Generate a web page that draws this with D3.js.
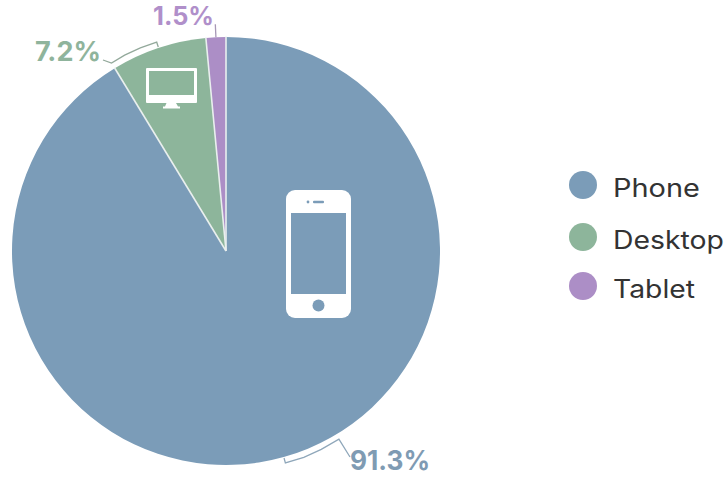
<!DOCTYPE html>
<html>
<head>
<meta charset="utf-8">
<script src="https://cdn.jsdelivr.net/npm/d3@7/dist/d3.min.js"></script>
<style>html,body{margin:0;padding:0;background:#fff}svg{display:block}</style>
</head>
<body>
<svg id="chart" width="727" height="479"></svg>
<script>
const categories = ["Phone", "Desktop", "Tablet"];
const values = [91.3, 7.2, 1.5];
const valueLabels = ["91.3%", "7.2%", "1.5%"];
const sliceColors = ["#7b9cb8", "#8db59b", "#ac8ec6"];
const labelColors = ["#7f9bb3", "#8fb49c", "#b08fca"];

const svg = d3.select("#chart");
const cx = 226, cy = 251, R = 214;
const font = "Inter, 'Noto Sans', sans-serif";

const color = d3.scaleOrdinal(categories, sliceColors);
const labelColor = d3.scaleOrdinal(categories, labelColors);
const pieData = d3.pie().sort(null).value((d, i) => values[i])(categories);
const arc = d3.arc().innerRadius(0).outerRadius(R);

const g = svg.append("g").attr("transform", `translate(${cx},${cy})`);
g.selectAll("path.slice").data(pieData).join("path")
  .attr("class", "slice")
  .attr("d", arc)
  .attr("fill", d => color(d.data));

const polar = (a, r) => [r * Math.sin(a), -r * Math.cos(a)];
const rad = d3.scaleLinear().domain([0, 360]).range([0, 2 * Math.PI]);
const mid = d => (d.startAngle + d.endAngle) / 2;
const line = d3.line();

// pale separators between the slices only
g.selectAll("path.sep").data(pieData).join("path")
  .attr("class", "sep")
  .attr("d", d => line([[0, 0], polar(d.startAngle, R + 0.5)]))
  .attr("fill", "none")
  .attr("stroke", "#e9efee")
  .attr("stroke-width", 1.6);

// leader lines start from each slice's mid angle
{
  const a = mid(pieData[0]);
  const b = a - rad(15.3);
  const pts = [polar(a, R + 1), polar(a, R + 6), polar(a - rad(5), R + 6.5), polar(a - rad(10), R + 6), polar(b, R + 5.5), [124, 206]];
  g.append("path").attr("d", line(pts)).attr("fill", "none").attr("stroke", "#8fa7ba").attr("stroke-width", 1.3);
}
{
  const a = mid(pieData[1]);
  const b = a - rad(13);
  const pts = [polar(a, R + 1), polar(a, R + 6), polar(a - rad(4.5), R + 6.5), polar(a - rad(9), R + 6.5), polar(b, R + 6), [-123, -191]];
  g.append("path").attr("d", line(pts)).attr("fill", "none").attr("stroke", "#93a99b").attr("stroke-width", 1.3);
}
{
  const a = mid(pieData[2]);
  g.append("path").attr("d", line([polar(a, R), polar(a, R + 13)])).attr("fill", "none").attr("stroke", "#a798b6").attr("stroke-width", 1.3);
}

// value labels
const labelSpots = [
  { x: 350, y: 470, w: 80, s: 27 },
  { x: 35, y: 61, w: 66, s: 27 },
  { x: 153, y: 24.5, w: 61, s: 25 }
];
svg.selectAll("text.value").data(categories).join("text")
  .attr("class", "value")
  .attr("x", (d, i) => labelSpots[i].x)
  .attr("y", (d, i) => labelSpots[i].y)
  .attr("textLength", (d, i) => labelSpots[i].w)
  .attr("lengthAdjust", "spacingAndGlyphs")
  .attr("font-family", font)
  .attr("font-size", (d, i) => labelSpots[i].s)
  .attr("font-weight", 700)
  .attr("fill", d => labelColor(d))
  .text((d, i) => valueLabels[i]);

// phone icon
const phone = svg.append("g");
phone.append("rect").attr("x", 286).attr("y", 190).attr("width", 65).attr("height", 128).attr("rx", 9).attr("fill", "#fff");
phone.append("rect").attr("x", 291).attr("y", 213).attr("width", 55).attr("height", 81).attr("fill", sliceColors[0]);
phone.append("circle").attr("cx", 318.5).attr("cy", 305.5).attr("r", 6).attr("fill", sliceColors[0]);
phone.append("circle").attr("cx", 308).attr("cy", 202).attr("r", 1.4).attr("fill", sliceColors[0]);
phone.append("rect").attr("x", 313).attr("y", 200.8).attr("width", 11).attr("height", 2.4).attr("rx", 1).attr("fill", sliceColors[0]);

// desktop icon
const desk = svg.append("g");
desk.append("rect").attr("x", 146).attr("y", 68).attr("width", 51).attr("height", 35).attr("rx", 1).attr("fill", "#fff");
desk.append("rect").attr("x", 149).attr("y", 71).attr("width", 45).attr("height", 24).attr("fill", sliceColors[1]);
desk.append("path").attr("d", "M166.5 103H176L178 106.5H180V108.5H163V106.5H165Z").attr("fill", "#fff");

// legend
const legendY = d3.scaleOrdinal(categories, [185, 237, 286]);
const legendW = d3.scaleOrdinal(categories, [87, 111, 82]);
const legend = svg.selectAll("g.legend").data(categories).join("g")
  .attr("class", "legend")
  .attr("transform", d => `translate(0,${legendY(d)})`);
legend.append("circle").attr("cx", 583).attr("cy", 0).attr("r", 14).attr("fill", d => color(d));
legend.append("text")
  .attr("x", 613)
  .attr("y", 11.5)
  .attr("textLength", d => legendW(d))
  .attr("lengthAdjust", "spacingAndGlyphs")
  .attr("font-family", font)
  .attr("font-size", 25)
  .attr("font-weight", 400)
  .attr("fill", "#333")
  .text(d => d);
</script>
</body>
</html>
